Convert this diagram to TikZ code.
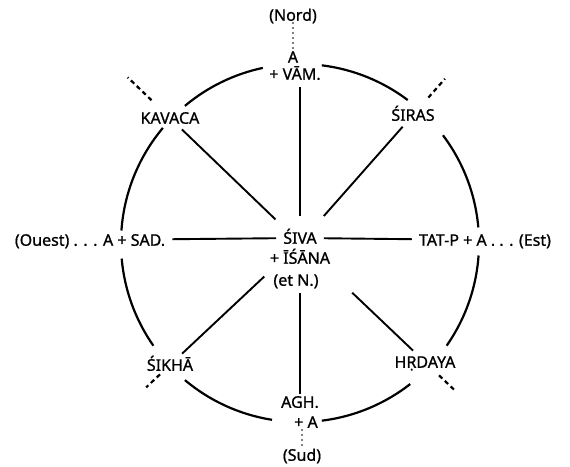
\documentclass[tikz,border=0pt]{standalone}
\usepackage{fontspec}
\setmainfont{Noto Sans}
\newfontfamily\lblfont{Noto Sans}[FakeBold=0.9]
\usetikzlibrary{calc}
\newcommand{\spoke}[2]{\draw[ray] (#1) -- ($(O)!#2!(#1)$);}
\newcommand{\outdash}[3]{\draw[cut] ($(O)!#2!(#1)$) -- ($(O)!#3!(#1)$);}

\begin{document}
\begin{tikzpicture}[x=1pt,y=1pt,
    lbl/.style={inner sep=2pt,font=\lblfont\fontsize{16}{19}\selectfont,text height=11.5pt,text depth=0pt},
    ring/.style={line width=2.2pt},
    ray/.style={line width=1.9pt,shorten <=5pt},
    cut/.style={line width=2.2pt,dash pattern=on 4.5pt off 3.5pt},
    dots/.style={line width=1.8pt,line cap=round,dash pattern=on 0pt off 5pt}]
    \useasboundingbox (0,0) rectangle (570,466);
    \coordinate (O) at (300,223);

    \node[lbl](nord) at (293,451) {(Nord)};
    \node[lbl](topa) at (293,409) {A};
    \node[lbl](vam) at (295,392) {+ VĀM.};
    \node[lbl](kavaca) at (170,348) {KAVACA};
    \node[lbl](siras) at (413,351) {ŚIRAS};
    \node[lbl](ouest) at (90,226) {(Ouest) . . . A + SAD.};
    \node[lbl](est) at (485,226) {TAT-P + A . . . (Est)};
    \node[lbl](siva) at (300,228) {ŚIVA};
    \node[lbl](isana) at (300,208) {+ ĪŚĀNA};
    \node[lbl](etn) at (296,186) {(et N.)};
    \node[lbl](sikha) at (170,101) {ŚIKHĀ};
    \node[lbl](hrdaya) at (425,104) {HṚDAYA};
    \node[lbl](agh) at (300,64) {AGH.};
    \node[lbl](bota) at (306,44) {+ A};
    \node[lbl](sud) at (302,11) {(Sud)};

    % circle, broken at the labels
    \foreach \a/\b in {5/37,53/83,102/130,140/176,185/215,230/261,277/308,325/356}
        \draw[ring] ($(O)+(\a:179pt)$) arc[start angle=\a,end angle=\b,radius=179pt];

    % spokes
    \draw[ray,shorten >=14pt] (vam.south -| siva) -- (siva);
    \draw[ray] (etn.south -| agh) -- (agh);
    \draw[ray,shorten >=5pt] (ouest) -- (siva);
    \draw[ray,shorten >=5pt] (siva) -- (est);
    \spoke{kavaca}{34pt}
    \spoke{siras}{36pt}
    \spoke{sikha}{49pt}
    \spoke{hrdaya}{72pt}

    % beyond the circle
    \outdash{kavaca}{206pt}{239pt}
    \outdash{siras}{194pt}{219pt}
    \outdash{sikha}{192pt}{211pt}
    \outdash{hrdaya}{192pt}{213pt}
    \draw[dots] (nord) -- (topa);
    \draw[dots] (bota.south -| sud) -- (sud);
\end{tikzpicture}
\end{document}
